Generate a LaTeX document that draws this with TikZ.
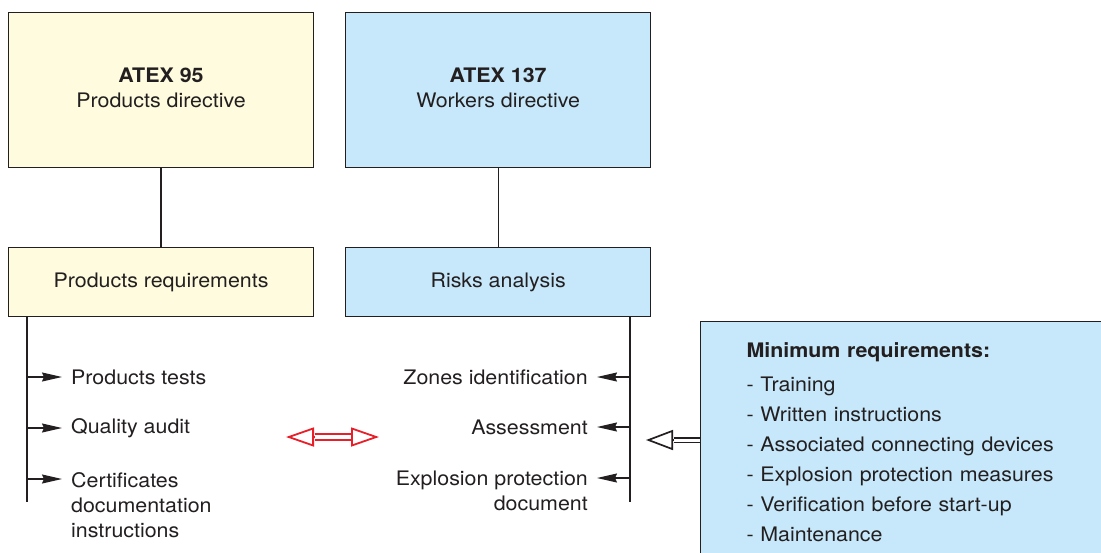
\documentclass[tikz,border=0pt]{standalone}
\usepackage{fontspec}
\setmainfont[FakeStretch=1.07]{TeX Gyre Heros}
\usetikzlibrary{arrows.meta,positioning}
\definecolor{prodfill}{RGB}{254,251,222}
\definecolor{workfill}{RGB}{199,232,250}
\definecolor{ink}{RGB}{35,31,32}
\definecolor{arrred}{RGB}{232,30,40}

\begin{document}
\begin{tikzpicture}[x=1pt,y=-1pt,font=\fontsize{20}{25}\selectfont,text=ink,
  box/.style={draw=ink,line width=1.1pt,align=center,minimum width=305pt,inner sep=0pt},
  bigbox/.style={box,minimum height=155pt},
  smallbox/.style={box,minimum height=69pt},
  item/.style={inner xsep=9pt,inner ysep=0pt},
  wire/.style={draw=ink,line width=1.2pt},
  tip/.style={-{Stealth[length=20pt,width=9pt,inset=2pt]}}]
\useasboundingbox (0,0) rectangle (1101,552);
\node[bigbox,fill=prodfill,anchor=north west] (pd) at (8,12) {\textbf{ATEX 95}\\Products directive\\[-20pt]};
\node[bigbox,fill=workfill,right=31pt of pd] (wd) {\textbf{ATEX 137}\\Workers directive\\[-20pt]};
\node[smallbox,fill=prodfill,below=79pt of pd] (pr) {Products requirements};
\node[smallbox,fill=workfill,below=79pt of wd] (ra) {Risks analysis};
\draw[wire] (pd)--(pr);\draw[wire] (wd)--(ra);
% products side
\coordinate (ls) at (27,502);
\coordinate (l1) at (27,377);\coordinate (l2) at (27,428);\coordinate (l3) at (27,479);
\node[item,anchor=west] (pt) at (62,377) {Products tests};
\node[item,anchor=west] (qa) at (62,428) {Quality audit};
\node[item,anchor=west,align=left] (cd) at (62,505) {Certificates\\documentation\\instructions};
\draw[wire] (ls |- pr.south)--(ls);
\draw[wire,tip] (l1)--(pt);\draw[wire,tip] (l2)--(qa);\draw[wire,tip] (l3)--(l3 -| cd.west);
% workers side
\coordinate (rs) at (630,502);
\coordinate (r1) at (630,377);\coordinate (r2) at (630,427);\coordinate (r3) at (630,478);
\node[item,anchor=east] (zi) at (597,377) {Zones identification};
\node[item,anchor=east] (as) at (597,427) {Assessment};
\node[item,anchor=east,align=right] (ep) at (597,490.5) {Explosion protection\\document};
\draw[wire] (rs |- ra.south)--(rs);
\draw[wire,tip] (r1)--(zi);\draw[wire,tip] (r2)--(as);\draw[wire,tip] (r3)--(r3 -| ep.east);
% minimum requirements
\node[draw=ink,line width=1.1pt,fill=workfill,anchor=north west,align=left,text width=340pt,inner xsep=46pt,inner ysep=21.5pt,font=\fontsize{20}{30}\selectfont] (req) at (700,321) {\textbf{Minimum requirements:}\\[4pt]- Training\\- Written instructions\\- Associated connecting devices\\- Explosion protection measures\\- Verification before start-up\\- Maintenance};
\coordinate (ma) at (646,440);
\draw[ink,line width=1.7pt,-{Triangle[open,length=27pt,width=20pt]}] (req.west |- ma)--(ma);
\draw[ink,line width=1.7pt,double=white,double distance=3pt,shorten >=27.5pt] (req.west |- ma)--(ma);
% red link
\coordinate (rl) at (286,437);\coordinate (rr) at (379,437);
\draw[arrred,line width=1.8pt,{Triangle[open,length=28pt,width=19pt]}-{Triangle[open,length=28pt,width=19pt]}] (rl)--(rr);
\draw[arrred,line width=1.8pt,double=white,double distance=4pt,shorten <=28.5pt,shorten >=28.5pt] (rl)--(rr);
\end{tikzpicture}
\end{document}
